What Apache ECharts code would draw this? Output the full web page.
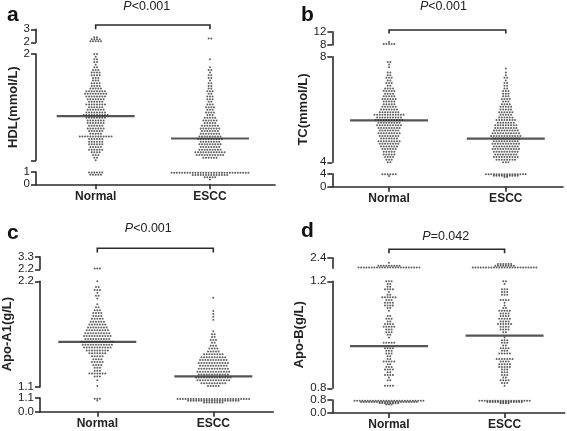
<!DOCTYPE html>
<html><head><meta charset="utf-8">
<script src="https://cdn.jsdelivr.net/npm/echarts@6/dist/echarts.min.js"></script>
<style>html,body{margin:0;padding:0;background:#fff}#c{width:567px;height:431px}</style>
</head><body><div id="c"></div>
<script>
// ---------- DATA (rows of the dot plots: [value, number of dots at that value]) ----------
const categories = ['Normal', 'ESCC'];

const hdlNormal = [[2.38,2],[2.23,4],[2.08,5],
 [2.0,2],[1.975,1],[1.95,2],[1.925,2],[1.9,1],[1.875,2],[1.85,3],[1.825,4],[1.8,4],[1.775,3],[1.75,3],[1.725,4],[1.7,4],[1.675,5],[1.65,8],[1.625,9],[1.6,8],[1.575,7],[1.55,6],[1.525,8],[1.5,6],[1.475,7],[1.45,8],[1.425,10],[1.4,8],[1.375,7],[1.35,7],[1.325,6],[1.3,7],[1.275,6],[1.25,5],[1.225,13],[1.2,6],[1.175,6],[1.15,6],[1.125,5],[1.1,6],[1.075,4],[1.05,3],[1.025,2],[1.0,1],
 [0.95,6],[0.78,5]];
const hdlEscc = [[2.3,2],
 [1.95,1],[1.875,1],[1.85,2],[1.825,1],[1.8,2],[1.775,2],[1.75,1],[1.725,2],[1.7,2],[1.675,2],[1.65,3],[1.625,2],[1.6,3],[1.575,3],[1.55,2],[1.525,3],[1.5,4],[1.475,3],[1.45,4],[1.425,3],[1.4,5],[1.375,6],[1.35,5],[1.325,7],[1.3,8],[1.275,7],[1.25,8],[1.225,9],[1.2,10],[1.175,8],[1.15,9],[1.125,8],[1.1,9],[1.075,12],[1.05,11],[1.025,6],
 [0.94,30],[0.76,14],[0.58,5],[0.4,1]];
const hdlMeans = [1.415, 1.205];
const hdlSegments = [[0,1],[1,2],[2,3]];

const tcNormal = [[8.9,1],[8.3,5],
 [7.8,2],[7.7,1],[7.6,1],[7.4,2],[7.3,2],[7.2,3],[7.1,2],[7.0,3],[6.9,2],[6.8,4],[6.7,5],[6.6,4],[6.5,5],[6.4,6],[6.3,5],[6.2,5],[6.1,6],[6.0,7],[5.9,8],[5.8,12],[5.7,10],[5.6,11],[5.5,9],[5.4,10],[5.3,9],[5.2,8],[5.1,9],[5.0,8],[4.9,7],[4.8,9],[4.7,8],[4.6,7],[4.5,6],[4.4,5],[4.3,5],[4.2,4],[4.1,3],[4.0,2],
 [3.8,6],[3.3,1]];
const tcEscc = [[7.55,1],[7.4,1],[7.3,1],[7.2,2],[7.1,1],[7.0,2],[6.9,2],[6.8,2],[6.7,3],[6.6,3],[6.5,3],[6.4,4],[6.3,3],[6.2,4],[6.1,5],[6.0,5],[5.9,6],[5.8,5],[5.7,6],[5.6,8],[5.5,7],[5.4,9],[5.3,9],[5.2,10],[5.1,11],[5.0,12],[4.9,11],[4.8,10],[4.7,11],[4.6,10],[4.5,11],[4.4,10],[4.3,9],[4.2,10],[4.1,8],[4.0,3],
 [3.85,16],[3.35,10],[3.0,2]];
const tcMeans = [5.59, 4.9];
const tcSegments = [[0,4],[4,8],[8,12]];

const apoA1Normal = [[2.28,3],
 [2.2,1],[2.14,2],[2.11,3],[2.08,1],[2.05,2],[2.02,1],[1.96,1],[1.93,2],[1.9,3],[1.87,4],[1.84,4],[1.81,5],[1.78,6],[1.75,7],[1.72,8],[1.69,9],[1.66,10],[1.63,11],[1.6,10],[1.57,13],[1.54,12],[1.51,11],[1.48,9],[1.45,7],[1.42,5],[1.39,4],[1.36,5],[1.33,4],[1.3,3],[1.27,3],[1.24,7],[1.21,3],[1.17,1],[1.11,1],
 [1.04,3],[0.9,1]];
const apoA1Escc = [[2.03,1],[1.89,1],[1.86,1],[1.83,1],[1.8,1],[1.68,1],[1.65,2],[1.62,2],[1.59,3],[1.56,2],[1.53,3],[1.5,4],[1.47,5],[1.44,8],[1.41,10],[1.38,11],[1.35,12],[1.32,11],[1.29,12],[1.26,13],[1.23,12],[1.2,14],[1.17,13],[1.14,10],[1.11,5],
 [1.02,28],[0.88,20],[0.74,8]];
const apoA1Means = [1.57, 1.21];
const apoA1Segments = [[0,1.1],[1.1,2.2],[2.2,3.3]];

const apoBNormal = [[1.83,1],[1.48,9],[1.3,24],
 [1.2,3],[1.19,2],[1.18,2],[1.17,4],[1.16,1],[1.15,2],[1.14,6],[1.13,3],[1.12,4],[1.11,4],[1.10,2],[1.09,1],[1.07,2],[1.06,3],[1.05,2],[1.04,4],[1.03,5],[1.02,3],[1.01,3],[1.0,2],[0.99,1],[0.97,5],[0.95,4],[0.94,3],[0.93,3],[0.92,2],[0.91,2],[0.9,5],[0.89,2],[0.88,3],[0.87,4],[0.86,2],[0.85,4],[0.84,1],[0.83,2],[0.81,4],
 [0.75,27],[0.67,22],[0.6,8],[0.53,3]];
const apoBEscc = [[1.69,6],[1.5,8],[1.28,25],
 [1.2,2],[1.19,1],[1.17,3],[1.16,3],[1.15,3],[1.13,4],[1.12,1],[1.11,1],[1.1,2],[1.09,5],[1.08,4],[1.07,4],[1.06,5],[1.05,4],[1.04,6],[1.03,4],[1.02,4],[1.01,2],[0.99,1],[0.98,3],[0.97,3],[0.96,2],[0.95,4],[0.94,3],[0.93,5],[0.91,7],[0.9,4],[0.89,5],[0.88,5],[0.87,3],[0.86,3],[0.85,3],[0.84,2],[0.83,4],[0.82,3],[0.81,1],
 [0.75,20],[0.68,14],[0.6,4]];
const apoBMeans = [0.958, 0.997];
const apoBSegments = [[0,0.8],[0.8,1.2],[1.2,2.4]];

const panelLetters = ['a','b','c','d'];
const axisNames = ['HDL(mmol/L)','TC(mmol/L)','Apo-A1(g/L)','Apo-B(g/L)'];
const pTexts = [['<0.001'],['<0.001'],['<0.001'],['=0.042']];

// ---------- LAYOUT (pixels) ----------
const FONT = 'Liberation Sans, Arial, Helvetica, sans-serif';
const layouts = [
  {left:36, right:275, top:[29.3,42.3], mid:[54,160.3], bot:[172,184.3], xr:[-0.522,1.569], nameGap:16, dec:0, midLabels:'top', bracketY:25, tickH:4.3, pY:7, pDx:-6, tl:2, tt:0},
  {left:332.3, right:563, top:[31.7,45], mid:[56.7,162.3], bot:[173.7,186.7], xr:[-0.486,1.49], nameGap:22, dec:0, midLabels:'both', bracketY:30, tickH:3.5, pY:7, pDx:-4, tl:296, tt:0},
  {left:40, right:273.3, top:[256.7,269.3], mid:[281.3,387], bot:[398,411.7], xr:[-0.494,1.517], nameGap:25, dec:1, midLabels:'both', bracketY:248.3, tickH:4.3, pY:229, pDx:-7, tl:2, tt:218},
  {left:332.3, right:564.7, top:[257.7,268.3], mid:[281.3,388.3], bot:[400,413.3], xr:[-0.49,1.52], nameGap:24, dec:1, midLabels:'both', bracketY:249.3, tickH:4, pY:236.5, pDx:-1, tl:296, tt:216}
];
const panelData = [
  {groups:[hdlNormal,hdlEscc], means:hdlMeans, segs:hdlSegments},
  {groups:[tcNormal,tcEscc], means:tcMeans, segs:tcSegments},
  {groups:[apoA1Normal,apoA1Escc], means:apoA1Means, segs:apoA1Segments},
  {groups:[apoBNormal,apoBEscc], means:apoBMeans, segs:apoBSegments}
];
const DOT_GAP = 2.65, DOT_SIZE = 2.0, MEAN_W = 78;
const INK = '#2b2b2b';

const grid = [], xAxis = [], yAxis = [], series = [], title = [];

panelData.forEach((pd, pi) => {
  const L = layouts[pi];
  const width = L.right - L.left;
  const pxPerUnit = width / (L.xr[1] - L.xr[0]);
  const step = DOT_GAP / pxPerUnit;
  const segPix = [L.bot, L.mid, L.top];
  const fmt = v => L.dec ? v.toFixed(L.dec) : String(Math.round(v));
  title.push({text: panelLetters[pi], left: L.tl, top: L.tt,
    textStyle:{fontSize:21, fontWeight:'bold', color:'#111', fontFamily:FONT}});
  for (let s = 0; s < 3; s++) {
    const g = pi*3 + s;
    const seg = pd.segs[s];
    grid.push({left: L.left, top: segPix[s][0], width: width, height: segPix[s][1]-segPix[s][0]});
    const isBottom = s === 0;
    xAxis.push({type:'value', gridIndex:g, min:L.xr[0], max:L.xr[1], show:isBottom,
      splitLine:{show:false},
      axisLine:{show:true, onZero:false, lineStyle:{color:INK, width:1.6}},
      axisTick:{show:true, customValues:[0,1], length:5, lineStyle:{color:INK, width:1.6}},
      axisLabel:{show:true, customValues:[0,1], formatter: v => categories[Math.round(v)] || '',
        fontSize:12, fontWeight:'bold', color:'#222', margin:6, fontFamily:FONT}});
    let labVals = [seg[0], seg[1]];
    if (s === 1 && L.midLabels === 'top') labVals = [seg[1]];
    yAxis.push({type:'value', gridIndex:g, min:seg[0], max:seg[1], scale:false,
      splitLine:{show:false},
      axisLine:{show:true, onZero:false, lineStyle:{color:INK, width:1.6}},
      axisTick:{show:true, customValues:[seg[0], seg[1]], length:5, lineStyle:{color:INK, width:1.6}},
      axisLabel:{show:true, customValues:labVals, formatter: fmt, fontSize:11.5, color:'#222', margin:6, fontFamily:FONT},
      name: s === 1 ? axisNames[pi] : '', nameLocation:'middle', nameRotate:90, nameGap:L.nameGap,
      nameTextStyle:{fontSize:13, fontWeight:'bold', color:'#222', fontFamily:FONT}});
    const pts = [];
    pd.groups.forEach((rows, gi) => {
      rows.forEach(([v, n]) => {
        let inSeg;
        if (s === 0) inSeg = v < pd.segs[1][0];
        else if (s === 1) inSeg = v >= pd.segs[1][0] && v <= pd.segs[1][1];
        else inSeg = v > pd.segs[1][1];
        if (!inSeg) return;
        for (let k = 0; k < n; k++) pts.push([gi + (k - (n-1)/2) * step, v]);
      });
    });
    series.push({type:'scatter', xAxisIndex:g, yAxisIndex:g, data:pts, symbol:'circle',
      symbolSize:DOT_SIZE, itemStyle:{color:'#383838'}, clip:false, silent:true, animation:false});
    if (s === 1) {
      series.push({type:'scatter', xAxisIndex:g, yAxisIndex:g,
        data: pd.means.map((m, gi) => [gi, m]), symbol:'rect', symbolSize:[MEAN_W, 2.2],
        itemStyle:{color:INK}, z:5, clip:false, silent:true, animation:false});
    }
  }
});

const chart = echarts.init(document.getElementById('c'), null, {renderer:'canvas'});
chart.setOption({backgroundColor:'#fff', animation:false, title, grid, xAxis, yAxis, series});

const graphics = [];
panelData.forEach((pd, pi) => {
  const L = layouts[pi];
  const g = pi*3 + 2;
  const x0 = chart.convertToPixel({xAxisIndex:g}, 0);
  const x1 = chart.convertToPixel({xAxisIndex:g}, 1);
  graphics.push({type:'polyline', silent:true,
    shape:{points:[[x0, L.bracketY + L.tickH],[x0, L.bracketY],[x1, L.bracketY],[x1, L.bracketY + L.tickH]]},
    style:{stroke:INK, lineWidth:1.6, fill:null}});
  graphics.push({type:'text', silent:true, x:(x0+x1)/2 + L.pDx, y:L.pY,
    style:{text:'{i|P}{n|' + pTexts[pi][0] + '}', align:'center', verticalAlign:'middle',
      rich:{i:{fontStyle:'italic', fontSize:12.5, fill:'#222', fontFamily:FONT},
            n:{fontSize:12.5, fill:'#222', fontFamily:FONT}}}});
});
chart.setOption({graphic: graphics});
</script>
</body></html>
